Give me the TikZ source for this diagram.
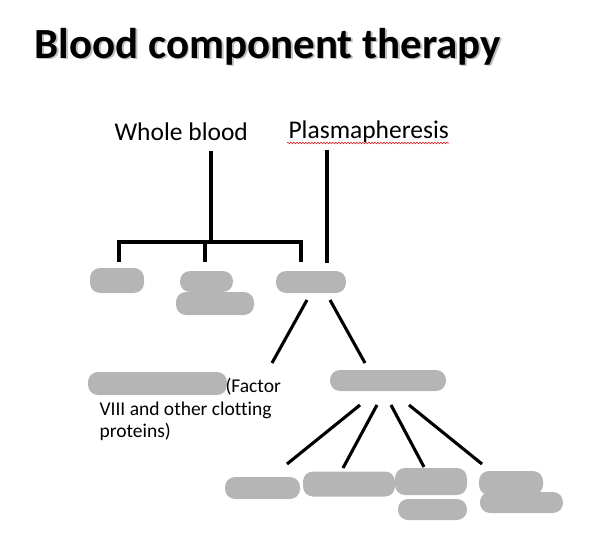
\documentclass[tikz,border=0pt]{standalone}
\usepackage{fontspec}
\setmainfont{Carlito}[Ligatures=NoCommon]
\usetikzlibrary{decorations.pathmorphing}
\definecolor{blobgray}{HTML}{B5B5B5}
\definecolor{spellred}{HTML}{E02020}
\begin{document}
\begin{tikzpicture}[x=1pt, y=-1pt, line width=3.1pt, line join=miter,
  blob/.style={fill=blobgray, draw=none, rounded corners=10pt, inner sep=0pt},
  lbl/.style={inner sep=0pt, anchor=base west},
  big/.style={font=\fontsize{25.5}{30}\selectfont},
  small/.style={font=\fontsize{19.5}{23}\selectfont}]
  \useasboundingbox (0,0) rectangle (598,546);

  \node[lbl, text=black!25, font=\fontsize{43}{50}\selectfont\bfseries] (titleshadow) at (34.8,59.8) {Blood component therapy};
  \node[lbl, font=\fontsize{43}{50}\selectfont\bfseries] (title) at (33,58) {Blood component therapy};

  \node[lbl, big] (whole) at (113,140) {Whole blood};
  \node[lbl, big] (plasmaph) at (287,138) {Plasmapheresis};
  \draw[spellred, line width=0.6pt, decorate, decoration={snake, amplitude=0.8pt, segment length=3pt}]
    (plasmaph.base west) ++(0,5) -- ++(162,0);

  \coordinate (wholeTop) at (211,151);
  \coordinate (wholeBar) at (211,242);
  \coordinate (barL) at (119,242);
  \coordinate (barR) at (301,242);
  \coordinate (dropL) at (119,262);
  \coordinate (dropM) at (205,262);
  \coordinate (dropR) at (301,262);
  \coordinate (barM) at (205,242);
  \draw (wholeTop) -- (wholeBar);
  \draw (dropL) -- (barL) -- (barR) -- (dropR);
  \draw (barM) -- (dropM);

  \coordinate (plasmaTop) at (327,150);
  \coordinate (plasmaEnd) at (327,263);
  \draw (plasmaTop) -- (plasmaEnd);

  \node[blob, minimum width=54pt, minimum height=25pt] (redcells) at (117,280.5) {};
  \node[blob, minimum width=53pt, minimum height=21pt] (platelets) at (206.5,281.5) {};
  \node[blob, minimum width=78pt, minimum height=23pt] (leuko) at (215,303.5) {};
  \node[blob, minimum width=70pt, minimum height=22pt] (plasma) at (311,282) {};

  \coordinate (plasmaL) at (307,300);
  \coordinate (plasmaR) at (330,300);
  \coordinate (cryoTop) at (272,363);
  \coordinate (fractTop) at (365,363);
  \draw (plasmaL) -- (cryoTop);
  \draw (plasmaR) -- (fractTop);

  \node[blob, minimum width=139pt, minimum height=23pt] (cryo) at (157.5,383.5) {};
  \node[lbl, small] (factor) at (224,392) {(Factor};
  \node[lbl, small] (clotting) at (98,415) {VIII and other clotting};
  \node[lbl, small] (proteins) at (98,437) {proteins)};

  \node[blob, minimum width=116pt, minimum height=21pt] (fract) at (388,380.5) {};

  \coordinate (fractA) at (360,405);
  \coordinate (fractB) at (377,405);
  \coordinate (fractC) at (391,405);
  \coordinate (fractD) at (409,405);
  \coordinate (prodA) at (287,464);
  \coordinate (prodB) at (343,468);
  \coordinate (prodC) at (424,467);
  \coordinate (prodD) at (482,464);
  \draw (fractA) -- (prodA);
  \draw (fractB) -- (prodB);
  \draw (fractC) -- (prodC);
  \draw (fractD) -- (prodD);

  \node[blob, minimum width=75pt, minimum height=22pt] (albumin) at (262.5,488) {};
  \node[blob, minimum width=92pt, minimum height=25pt] (globulin) at (349,484) {};
  \node[blob, minimum width=72pt, minimum height=27pt] (clotconc) at (431,481.5) {};
  \node[blob, minimum width=69pt, minimum height=21pt] (clotconcb) at (432.5,509.5) {};
  \node[blob, minimum width=64pt, minimum height=24pt] (other) at (511,483) {};
  \node[blob, minimum width=83pt, minimum height=21pt] (otherb) at (521.5,502.5) {};
\end{tikzpicture}
\end{document}
